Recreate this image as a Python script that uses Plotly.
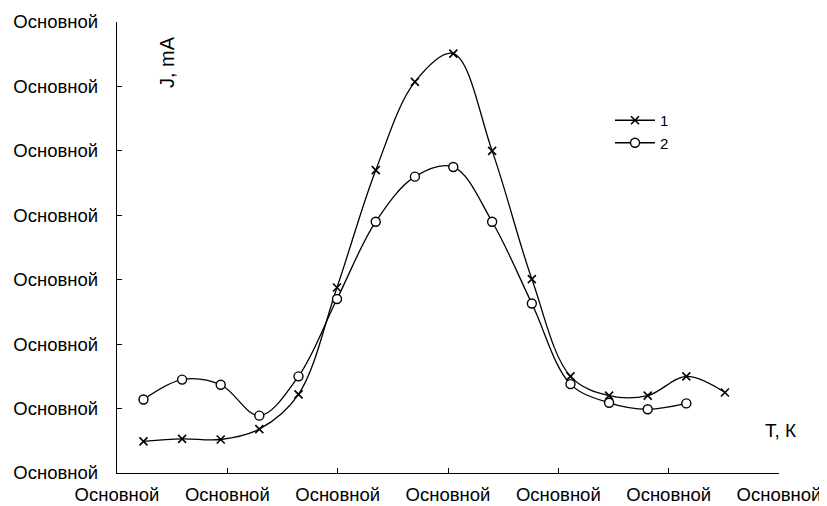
import plotly.graph_objects as go

# Data (axis units: ticks 0..6 on x, 0..7 on y)
x1 = [0.24, 0.59, 0.94, 1.29, 1.645, 1.994, 2.345, 2.70, 3.048, 3.40, 3.76, 4.11, 4.46, 4.81, 5.16, 5.51]
y1 = [0.49, 0.53, 0.52, 0.68, 1.22, 2.88, 4.70, 6.07, 6.51, 5.00, 3.01, 1.50, 1.20, 1.20, 1.50, 1.25]
x2 = [0.24, 0.59, 0.94, 1.29, 1.645, 1.994, 2.345, 2.70, 3.048, 3.40, 3.76, 4.11, 4.46, 4.81, 5.16]
y2 = [1.14, 1.45, 1.37, 0.89, 1.50, 2.70, 3.90, 4.60, 4.75, 3.90, 2.63, 1.38, 1.09, 0.99, 1.08]
series_names = ["1", "2"]
x_tickvals = [0, 1, 2, 3, 4, 5, 6]
y_tickvals = [0, 1, 2, 3, 4, 5, 6, 7]
tick_label = "Основной"
y_title = "J, mA"
x_title = "Т, К"

FONT = "Liberation Sans, Arial, sans-serif"

fig = go.Figure()
fig.add_trace(go.Scatter(
    x=x1, y=y1, name=series_names[0], mode="lines+markers",
    line=dict(color="black", width=1.3, shape="spline", smoothing=1.0),
    marker=dict(symbol="x-thin", size=8, color="black", line=dict(color="black", width=1.6)),
))
fig.add_trace(go.Scatter(
    x=x2, y=y2, name=series_names[1], mode="lines+markers",
    line=dict(color="black", width=1.3, shape="spline", smoothing=1.0),
    marker=dict(symbol="circle", size=9, color="white", line=dict(color="black", width=1.4)),
))

# page is offset by the default 8px body margin
OFF = 8
W, H = 827 - OFF, 506 - OFF
L, R, T, B = 117 - OFF, 48, 22 - OFF, 33
pw, ph = W - L - R, H - T - B

def px(xp):  # page pixel -> paper x
    return (xp - OFF - L) / pw

def py(yp):  # page pixel -> paper y
    return (H - B - (yp - OFF)) / ph

fig.update_layout(
    width=W, height=H,
    margin=dict(l=L, r=R, t=T, b=B, autoexpand=False),
    paper_bgcolor="white", plot_bgcolor="white",
    font=dict(family=FONT, size=18, color="black"),
    showlegend=True,
    legend=dict(x=px(610), y=py(104), xanchor="left", yanchor="top",
                bgcolor="rgba(0,0,0,0)", font=dict(size=15), tracegroupgap=0,
                itemwidth=40),
    xaxis=dict(range=[0, 6], tickvals=x_tickvals, ticktext=[tick_label] * len(x_tickvals),
               showgrid=False, zeroline=False, showline=True, linecolor="black", linewidth=1.3,
               ticks="inside", ticklen=5, tickcolor="black", tickwidth=1.3,
               tickfont=dict(size=18.5), ticklabelstandoff=5, automargin=False, fixedrange=True),
    yaxis=dict(range=[0, 7], tickvals=y_tickvals, ticktext=[tick_label] * len(y_tickvals),
               showgrid=False, zeroline=False, showline=True, linecolor="black", linewidth=1.3,
               ticks="inside", ticklen=5, tickcolor="black", tickwidth=1.3,
               tickfont=dict(size=18.5), ticklabelstandoff=14, automargin=False, fixedrange=True),
    annotations=[
        dict(text=y_title, x=px(167), y=py(62), xref="paper", yref="paper", showarrow=False,
             textangle=-90, font=dict(size=20), xanchor="center", yanchor="middle"),
        dict(text=x_title, x=px(780), y=py(430), xref="paper", yref="paper", showarrow=False,
             font=dict(size=19), xanchor="center", yanchor="middle"),
    ],
)

fig.write_html("out.html")
